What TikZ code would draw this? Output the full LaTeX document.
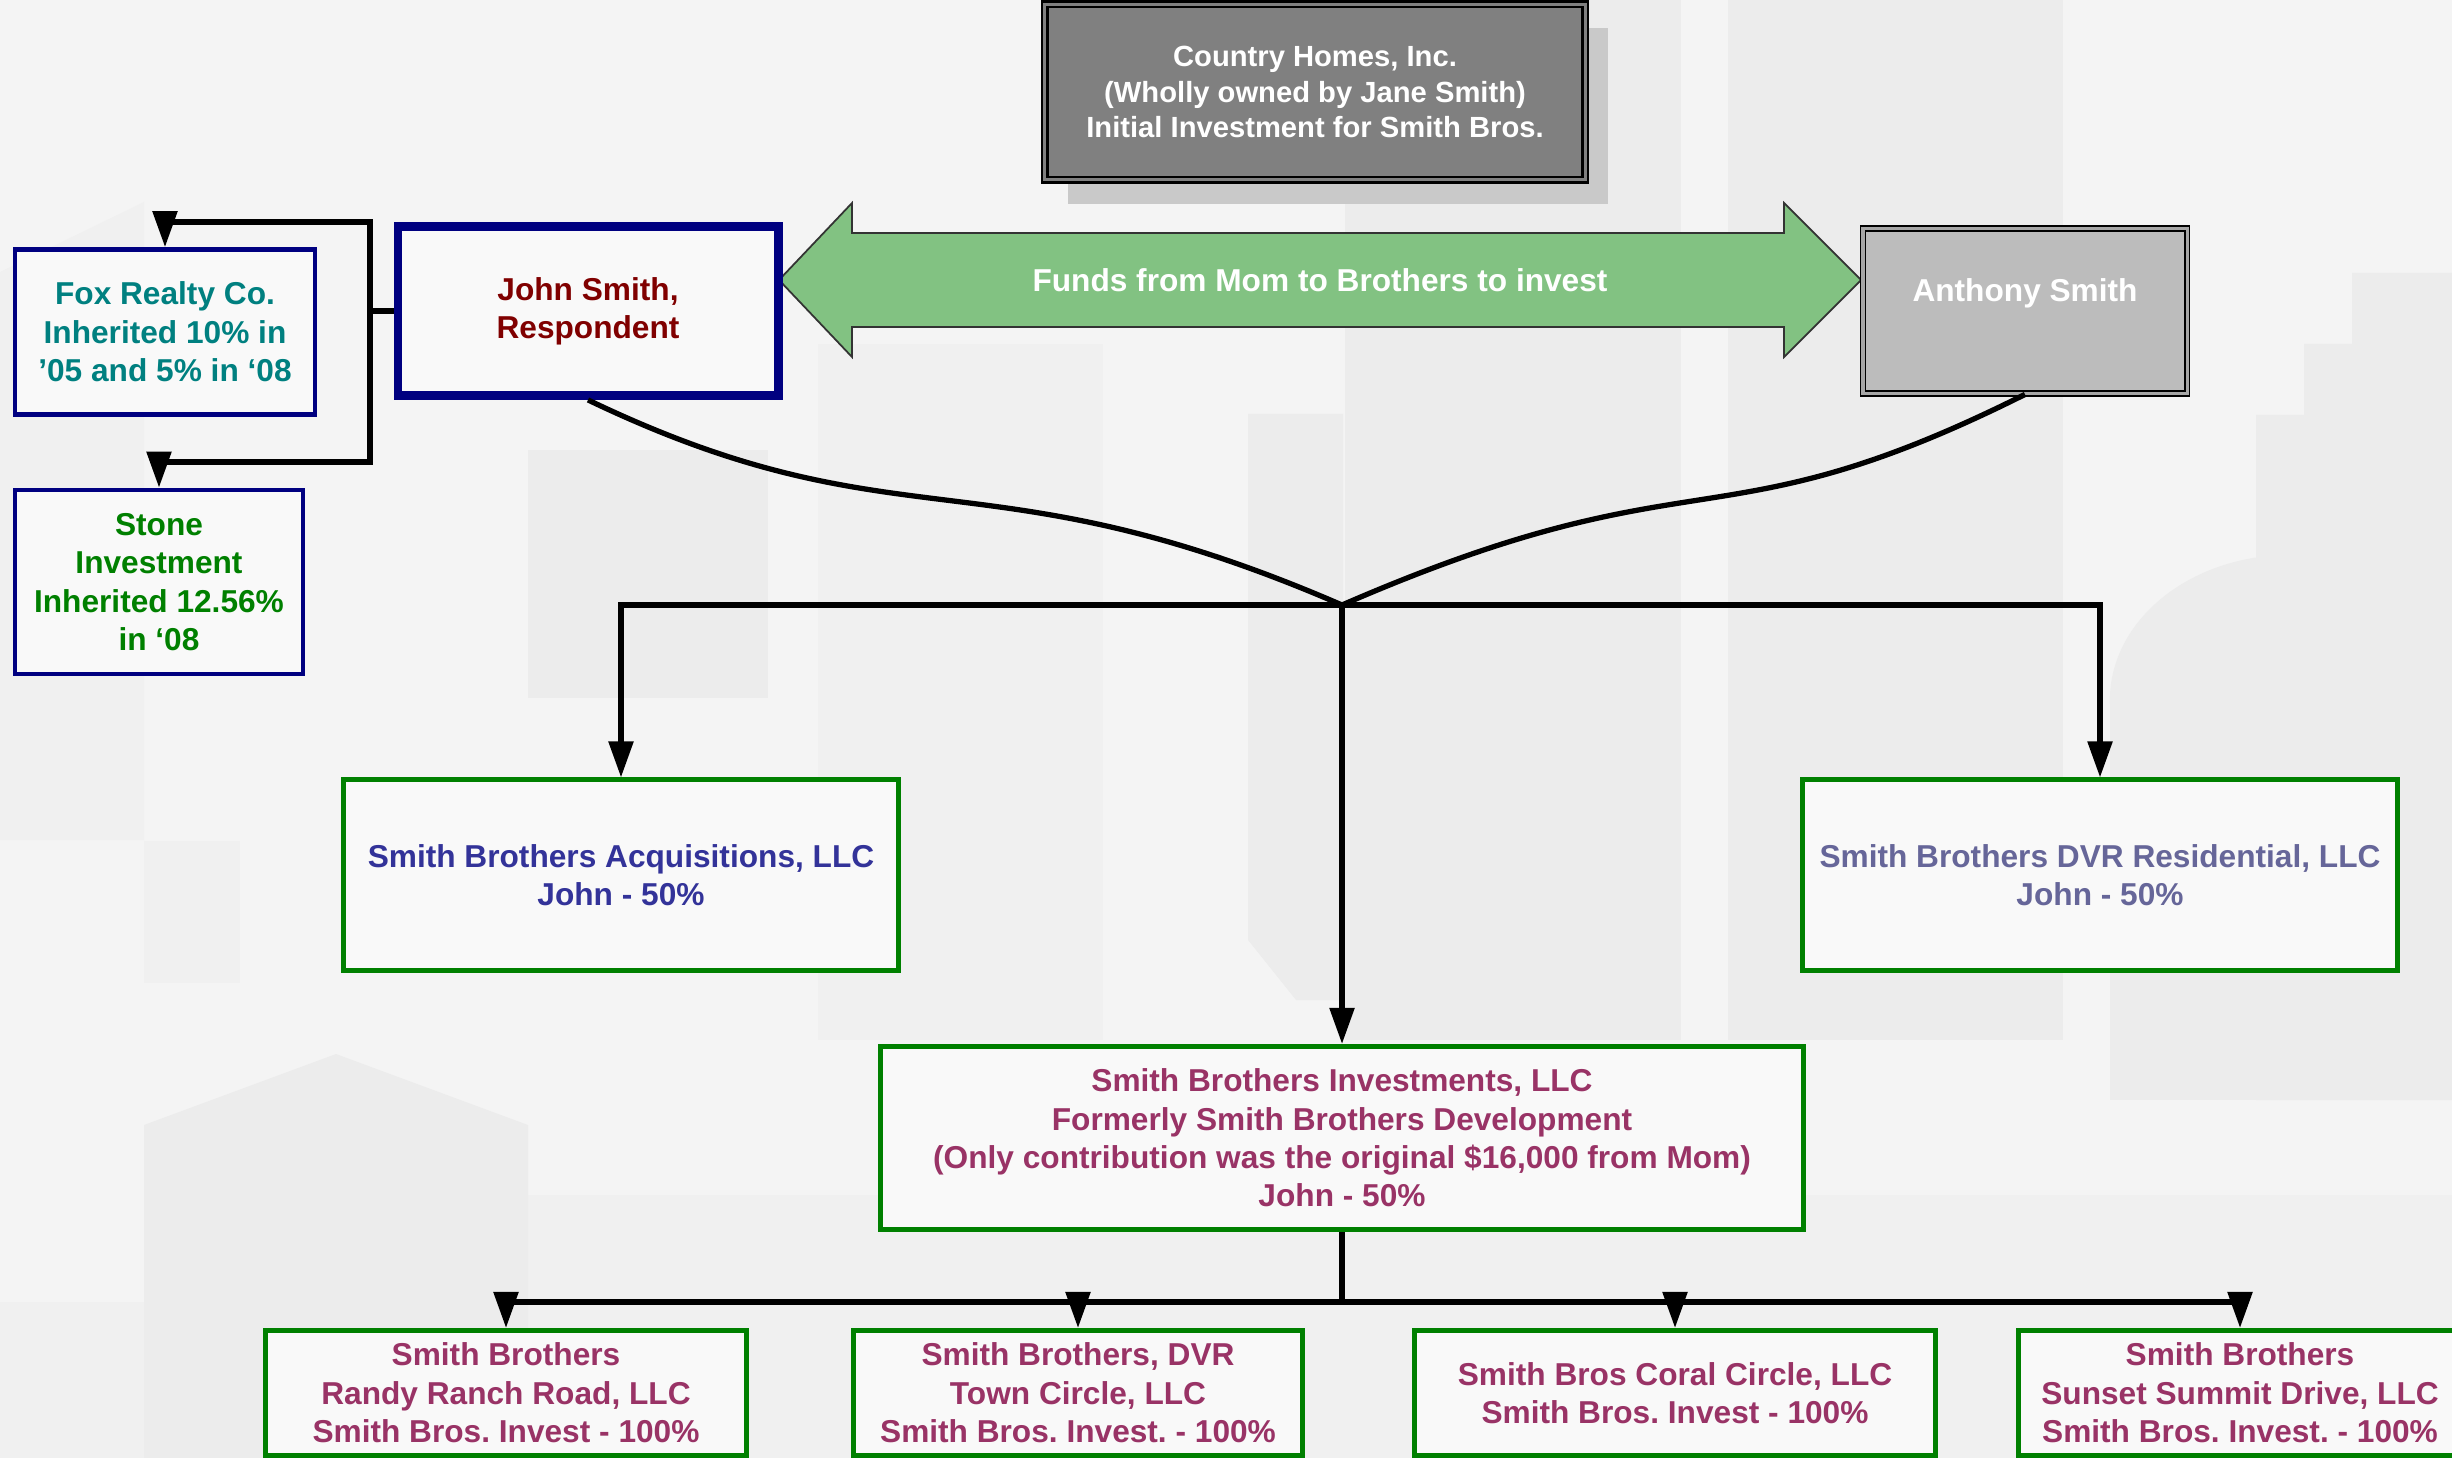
\documentclass[tikz,border=0pt]{standalone}
\usepackage{fontspec}
\setmainfont{Liberation Sans}
\usetikzlibrary{arrows.meta,shadows}

\definecolor{bgbase}{HTML}{F4F4F4}
\definecolor{bldg}{HTML}{ECECEC}
\definecolor{bldglight}{HTML}{F0F0F0}
\definecolor{homegray}{HTML}{808080}
\definecolor{homeshadow}{HTML}{C9C9C9}
\definecolor{fundsgreen}{RGB}{130,194,130}
\definecolor{anthgray}{HTML}{BCBCBC}
\definecolor{boxfill}{HTML}{F9F9F9}
\definecolor{navyline}{HTML}{000080}
\definecolor{llcgreen}{HTML}{008000}
\definecolor{johnred}{HTML}{800000}
\definecolor{foxteal}{HTML}{008080}
\definecolor{stonegreen}{HTML}{008000}
\definecolor{acqblue}{HTML}{333399}
\definecolor{dvrslate}{HTML}{666699}
\definecolor{plum}{HTML}{993366}

\begin{document}
\frenchspacing
\begin{tikzpicture}[x=0.01cm,y=-0.01cm]
\tikzstyle{every node}=[font=\bfseries\fontsize{9}{10.9}\selectfont,align=center,inner sep=0pt]
\tikzstyle{homebox}=[rectangle,fill=homegray,draw=black,line width=0.7pt,double=gray,double distance=0.9pt,text=white,
  drop shadow={shadow xshift=0.23cm,shadow yshift=-0.24cm,fill=homeshadow,opacity=1}]
\tikzstyle{brotherbox}=[rectangle,fill=anthgray,draw=black,line width=0.5pt,double=gray!70,double distance=0.9pt,text=white]
\tikzstyle{johnbox}=[rectangle,fill=boxfill,draw=navyline,line width=2.5pt,text=johnred]
\tikzstyle{kinbox}=[rectangle,fill=boxfill,draw=navyline,line width=1.3pt]
\tikzstyle{llcbox}=[rectangle,fill=boxfill,draw=llcgreen,line width=1.4pt]
\tikzstyle{link}=[draw=black,line width=1.5pt]
\tikzstyle{flow}=[link,-{Triangle[length=0.36cm,width=0.24cm]}]

\useasboundingbox (0,0) rectangle (2452,1458);
% background skyline
\fill[bgbase] (0,0) rectangle (2452,1458);
\fill[bldglight] (0,272) -- (144,202) -- (144,840) -- (0,840) -- cycle;
\fill[bldglight] (144,841) rectangle (240,983);
\fill[bldg] (528,450) rectangle (768,698);
\fill[bldglight] (818,344) rectangle (1103,1040);
\fill[bldg] (1248,414) -- (1343,414) -- (1343,1000) -- (1296,1000) -- (1248,940) -- cycle;
\fill[bldg] (1345,0) rectangle (1681,1040);
\fill[bldg] (1728,0) rectangle (2063,1040);
\fill[bldg] (2452,273) -- (2352,273) -- (2352,344) -- (2304,344) -- (2304,415) -- (2256,415) -- (2256,1100) -- (2452,1100) -- cycle;
\fill[bldg] (2290,700) ellipse [x radius=1.8cm,y radius=1.45cm];
\fill[bldg] (2110,700) rectangle (2452,1100);
\fill[bldglight] (528,1195) rectangle (2452,1302);
\fill[bldglight] (0,1302) rectangle (2452,1458);
\fill[bldg] (144,1125) -- (336,1054) -- (528,1125) -- (528,1458) -- (144,1458) -- cycle;

% top row
\node[homebox,minimum width=5.4cm,minimum height=1.75cm,font=\bfseries\fontsize{8.3}{10}\selectfont] (home) at (1315,92)
  {Country Homes, Inc.\\(Wholly owned by Jane Smith)\\Initial Investment for Smith Bros.};

\filldraw[fill=fundsgreen,draw=black!80,line width=0.5pt] (779,280) -- (852,203) -- (852,233) -- (1784,233) -- (1784,203)
  -- (1861,280) -- (1784,357) -- (1784,327) -- (852,327) -- (852,357) -- cycle;
\node[text=white] (funds) at (1320,280) {Funds from Mom to Brothers to invest};

\node[johnbox,minimum width=3.8cm,minimum height=1.69cm] (john) at (588,311) {John Smith,\\Respondent};
\node[brotherbox,minimum width=3.24cm,minimum height=1.65cm,text depth=0.42cm] (anthony) at (2025,311) {Anthony Smith};

\node[kinbox,text=foxteal,minimum width=3.0cm,minimum height=1.65cm] (fox) at (165,332)
  {Fox Realty Co.\\Inherited 10\% in\\’05 and 5\% in ‘08};
\node[kinbox,text=stonegreen,minimum width=2.88cm,minimum height=1.84cm] (stone) at (159,582)
  {Stone\\Investment\\Inherited 12.56\%\\in ‘08};

% holding companies
\node[llcbox,text=acqblue,minimum width=5.55cm,minimum height=1.9cm] (acq) at (621,875)
  {Smith Brothers Acquisitions, LLC\\John - 50\%};
\node[llcbox,text=dvrslate,minimum width=5.95cm,minimum height=1.9cm] (dvr) at (2100,875)
  {Smith Brothers DVR Residential, LLC\\John - 50\%};
\node[llcbox,text=plum,minimum width=9.23cm,minimum height=1.83cm] (invest) at (1342,1138)
  {Smith Brothers Investments, LLC\\Formerly Smith Brothers Development\\(Only contribution was the original \$16,000 from Mom)\\John - 50\%};

\node[llcbox,text=plum,minimum width=4.81cm,minimum height=1.25cm] (randy) at (506,1393)
  {Smith Brothers\\Randy Ranch Road, LLC\\Smith Bros. Invest - 100\%};
\node[llcbox,text=plum,minimum width=4.49cm,minimum height=1.25cm] (town) at (1078,1393)
  {Smith Brothers, DVR\\Town Circle, LLC\\Smith Bros. Invest. - 100\%};
\node[llcbox,text=plum,minimum width=5.21cm,minimum height=1.25cm] (coral) at (1675,1393)
  {Smith Bros Coral Circle, LLC\\Smith Bros. Invest - 100\%};
\node[llcbox,text=plum,minimum width=4.42cm,minimum height=1.25cm] (sunset) at (2240,1393)
  {Smith Brothers\\Sunset Summit Drive, LLC\\Smith Bros. Invest. - 100\%};

\coordinate (meet) at (1342,605);
\coordinate (split) at (1342,1302);

% connectors
\draw[flow] (john.west) -| (370,222) -| (fox.north);
\draw[flow] (john.west) -| (370,462) -| (stone.north);
\draw[link] (john.south) .. controls (901,550) and (982,449) .. (meet);
\draw[link] (anthony.south) .. controls (1714,550) and (1701,449) .. (meet);
\draw[flow] (meet) -| (acq.north);
\draw[flow] (meet) -| (dvr.north);
\draw[flow] (meet) -- (invest.north);
\draw[link] (invest.south) -- (split);
\draw[flow] (split) -| (randy.north);
\draw[flow] (split) -| (town.north);
\draw[flow] (split) -| (coral.north);
\draw[flow] (split) -| (sunset.north);
\end{tikzpicture}
\end{document}
